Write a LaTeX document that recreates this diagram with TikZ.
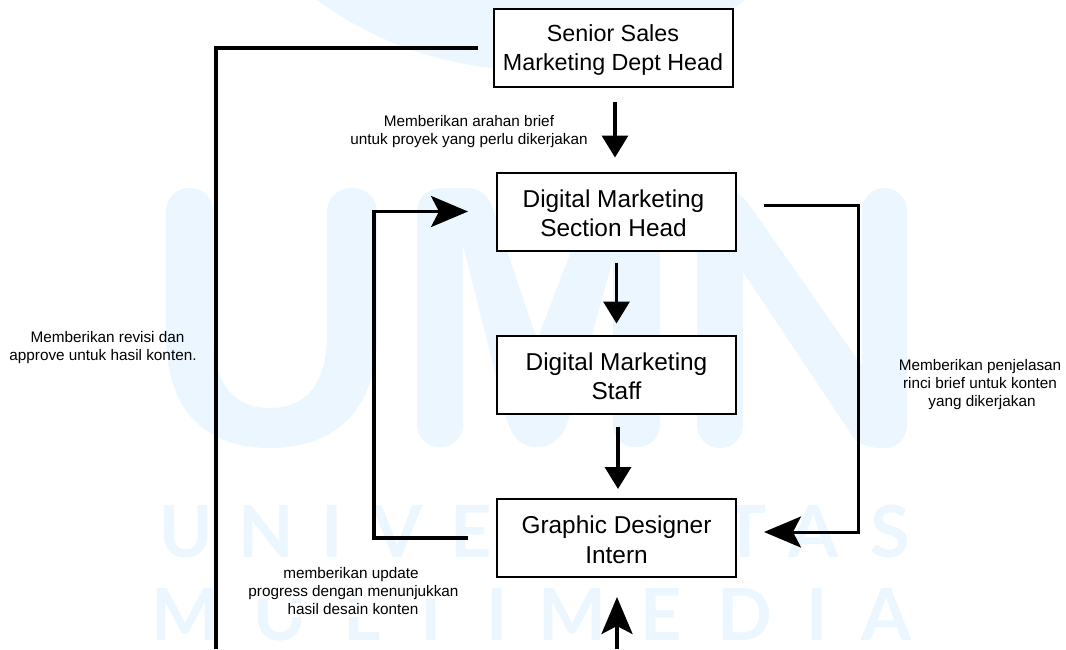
\documentclass[tikz,border=0pt]{standalone}
\usepackage{fontspec}
\setmainfont{Liberation Sans}
\newfontfamily\wmfont{Lato}
\usetikzlibrary{arrows.meta}
\definecolor{wm}{HTML}{EBF6FF}
\newcommand{\tp}{\rule{0pt}{21pt}}
\tikzset{
  box/.style={draw=black,fill=white,line width=2pt,minimum width=239pt,minimum height=78pt,inner sep=0pt,align=center,font=\fontsize{24.4}{29.5}\selectfont},
  seniorbox/.style={box,font=\fontsize{23.3}{29}\selectfont},
  note/.style={align=center,inner sep=0pt,font=\fontsize{15.3}{18}\selectfont},
  noteline/.style={fill=white,inner sep=0pt,text height=11pt,text depth=3pt,font=\fontsize{15.3}{18}\selectfont},
  wmletter/.style={text=wm,anchor=base,inner sep=0pt,font=\wmfont\bfseries\fontsize{72}{72}\selectfont},
  wmshape/.style={fill=wm,draw=none},
  conn/.style={draw=black,line width=3.5pt},
  barbed/.style={conn,-{Stealth[length=37pt,width=31pt,inset=8pt]}},
  flathead/.style={conn,-{Triangle[length=22pt,width=26pt]}}
}
\begin{document}
\begin{tikzpicture}[x=1pt,y=-1pt]
\useasboundingbox (0,0) rectangle (1066,649);
% watermark
\begin{scope}
\clip (0,0) rectangle (1066,649);
\fill[wm] (531,-292) circle (362pt);
\end{scope}
\path[wmshape] (166,212) .. controls (166,198) and (176,188) .. (190,188) .. controls (203,188) and (213,198) .. (213,212) -- (213,335) .. controls (213,385) and (235,408) .. (270,408) .. controls (305,408) and (327,385) .. (327,335) -- (327,212) .. controls (327,198) and (338,188) .. (352,188) .. controls (366,188) and (377,198) .. (377,212) -- (377,335) .. controls (377,410) and (335,448) .. (270,448) .. controls (205,448) and (166,410) .. (166,335) -- cycle;
\path[wmshape] (417,212) .. controls (417,197) and (428,188) .. (443,188) -- (465,188) .. controls (480,188) and (490,195) .. (495,215) -- (537,340) -- (585,215) .. controls (590,195) and (600,188) .. (615,188) -- (637,188) .. controls (651,188) and (660,198) .. (660,212) -- (660,424) .. controls (660,438) and (650,447) .. (636,447) .. controls (622,447) and (613,438) .. (613,424) -- (613,260) -- (568,420) .. controls (563,438) and (552,447) .. (537,447) .. controls (522,447) and (512,438) .. (507,420) -- (463,245) -- (463,424) .. controls (463,438) and (453,447) .. (440,447) .. controls (427,447) and (417,438) .. (417,424) -- cycle;
\path[wmshape] (697,425) -- (697,212) .. controls (697,197) and (708,188) .. (722,188) .. controls (733,188) and (741,195) .. (748,203) -- (862,366) -- (862,211) .. controls (862,198) and (872,188) .. (884,188) .. controls (897,188) and (907,198) .. (907,211) -- (907,425) .. controls (907,438) and (897,448) .. (884,448) .. controls (870,448) and (860,446) .. (853,437) -- (743,272) -- (743,425) .. controls (743,438) and (733,448) .. (720,448) .. controls (707,448) and (697,438) .. (697,425) -- cycle;
\node[wmletter] (w1) at (186,557) {U};
\node[wmletter] (w2) at (266,557) {N};
\node[wmletter] (w3) at (332,557) {I};
\node[wmletter] (w4) at (397,557) {V};
\node[wmletter] (w5) at (471,557) {E};
\node[wmletter] (w6) at (745,557) {T};
\node[wmletter] (w7) at (813,557) {A};
\node[wmletter] (w8) at (890,557) {S};
\node[wmletter] (m1) at (186,640) {M};
\node[wmletter] (m2) at (280,640) {U};
\node[wmletter] (m3) at (362,640) {L};
\node[wmletter] (m4) at (431,640) {T};
\node[wmletter] (m5) at (497,640) {I};
\node[wmletter] (m6) at (573,640) {M};
\node[wmletter] (m7) at (661,640) {E};
\node[wmletter] (m8) at (745,640) {D};
\node[wmletter] (m9) at (817,640) {I};
\node[wmletter] (m10) at (886,640) {A};
% boxes
\node[seniorbox] (senior) at (613,48) {\tp Senior Sales\\Marketing Dept Head};
\node[box] (head) at (616.5,211.5) {\tp\hspace*{-6pt}Digital Marketing\\\hspace*{-6pt}Section Head};
\node[box] (staff) at (616.5,374.5) {\tp Digital Marketing\\Staff};
\node[box] (intern) at (616.5,538) {\tp Graphic Designer\\Intern};
% free ends
\coordinate (revbot) at (216,649);
\coordinate (upbot) at (617,649);
\coordinate (loopL) at (374,375);
\coordinate (loopR) at (858,375);
% connectors
\draw[conn,line width=4pt] ([xshift=-15pt]senior.west) -| (revbot);
\draw[flathead] ([xshift=2pt,yshift=-14pt]senior.south) -- ([xshift=-1.5pt,yshift=14pt]head.north);
\draw[flathead] ([yshift=-11pt]head.south) -- ([yshift=11pt]staff.north);
\draw[flathead] ([xshift=1.5pt,yshift=-12pt]staff.south) -- ([xshift=1.5pt,yshift=9pt]intern.north);
\draw[barbed] (upbot) -- ([xshift=0.5pt,yshift=-19pt]intern.south);
\draw[barbed] ([xshift=-28pt]intern.west) -| (loopL) |- ([xshift=-28pt]head.west);
\draw[barbed,line width=3pt] ([xshift=27pt,yshift=6.5pt]head.east) -| (loopR) |- ([xshift=27pt,yshift=6pt]intern.east);
% notes
\node[note] (n1) at (469,131.5) {Memberikan arahan brief\\untuk proyek yang perlu dikerjakan};
\node[note] (n2) at (103,348) {\hspace*{9pt}Memberikan revisi dan\\approve untuk hasil konten.};
\node[note] (n3) at (980,385) {Memberikan penjelasan\\rinci brief untuk konten\\\hspace*{4pt}yang dikerjakan};
\node[noteline] (n4a) at (351,574) {memberikan update};
\node[noteline] (n4b) at (353.5,592) {progress dengan menunjukkan};
\node[noteline] (n4c) at (353,610) {hasil desain konten};
\end{tikzpicture}
\end{document}
